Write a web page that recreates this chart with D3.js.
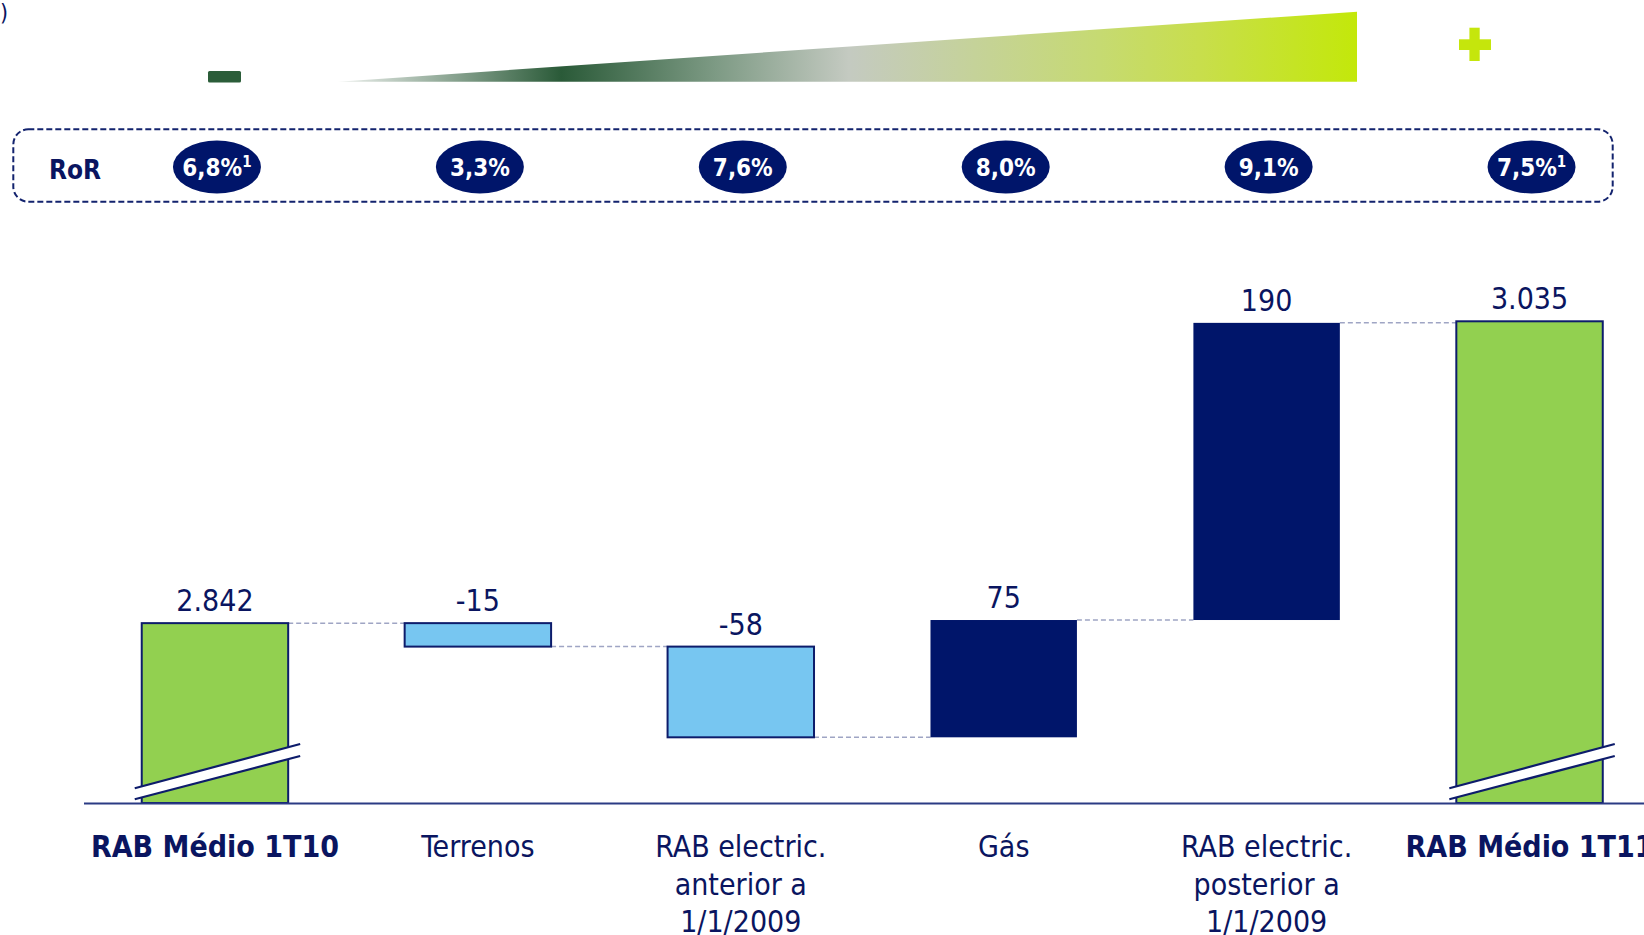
<!DOCTYPE html>
<html>
<head>
<meta charset="utf-8">
<script src="https://cdn.jsdelivr.net/npm/d3@7"></script>
<style>
  html, body { margin: 0; padding: 0; background: #ffffff; }
  svg { display: block; }
  text { font-family: "DejaVu Sans Condensed", "DejaVu Sans", sans-serif; font-stretch: condensed; }
</style>
</head>
<body>
<svg id="chart" width="1644" height="935"></svg>
<script>
// ---- Data ----
const categories = ["RAB Médio 1T10", "Terrenos", "RAB electric. anterior a 1/1/2009", "Gás", "RAB electric. posterior a 1/1/2009", "RAB Médio 1T11"];
const categoryLines = [["RAB Médio 1T10"], ["Terrenos"], ["RAB electric.", "anterior a", "1/1/2009"], ["Gás"], ["RAB electric.", "posterior a", "1/1/2009"], ["RAB Médio 1T11"]];
const stepKinds = ["total", "delta", "delta", "delta", "delta", "total"];
const values = [2842, -15, -58, 75, 190, 3035];
const rorRates = ["6,8%", "3,3%", "7,6%", "8,0%", "9,1%", "7,5%"];
const rorNotes = ["1", "", "", "", "", "1"];
const axisFloor = 2727;   // value at the (broken) base line

// ---- Palette ----
const NAVY = "#00156a";
const TEXT = "#0a1560";
const GREEN = "#92d050";
const LIGHTBLUE = "#77c6f1";

const svg = d3.select("#chart");
const W = 1644, H = 935;
svg.append("rect").attr("width", W).attr("height", H).attr("fill", "#fff");

// ---- Scales ----
const x = d3.scaleBand().domain(categories).range([83.5, 1661]).paddingInner(0.443).paddingOuter(0.2215);
const y = d3.scaleLinear().domain([axisFloor, 3035]).range([803, 321.3]);

// number format: "." thousands, plain hyphen minus
const fmt = d3.formatLocale({ decimal: ",", thousands: ".", grouping: [3], currency: ["", ""], minus: "-" }).format(",");

// waterfall segments
let running = 0;
const bars = categories.map((c, i) => {
  let lo, hi, end;
  if (stepKinds[i] === "total") {
    lo = axisFloor; hi = values[i]; end = values[i];
  } else {
    const start = running; end = running + values[i];
    lo = Math.min(start, end); hi = Math.max(start, end);
  }
  running = end;
  const fill = stepKinds[i] === "total" ? GREEN : (values[i] < 0 ? LIGHTBLUE : NAVY);
  return { c, i, lo, hi, end, fill, v: values[i], kind: stepKinds[i] };
});

// ---- Top legend: "-" ... gradient wedge ... "+" ----
svg.append("text").attr("x", 0).attr("y", 21).attr("font-size", 23).attr("fill", TEXT).text(")");

const defs = svg.append("defs");
const grad = defs.append("linearGradient").attr("id", "wedge")
  .attr("gradientUnits", "userSpaceOnUse").attr("x1", 338).attr("x2", 1357).attr("y1", 0).attr("y2", 0);
[[0, "#eef1ee"], [0.219, "#2a5a38"], [0.37, "#7d9a84"], [0.501, "#c4cac1"], [0.747, "#c6da72"], [0.846, "#c8de4c"], [1, "#c3e80a"]]
  .forEach(([o, col]) => grad.append("stop").attr("offset", o).attr("stop-color", col));
svg.append("polygon").attr("points", "338,81.7 1357,11.7 1357,81.7").attr("fill", "url(#wedge)");

svg.append("rect").attr("x", 208).attr("y", 71).attr("width", 33).attr("height", 11.5).attr("rx", 1.5).attr("fill", "#2b5d39");
const plus = svg.append("g").attr("fill", "#c5e60c");
plus.append("rect").attr("x", 1459).attr("y", 39.3).attr("width", 32).attr("height", 10.7);
plus.append("rect").attr("x", 1469.4).attr("y", 27.7).attr("width", 10.3).attr("height", 33.3);

// ---- RoR strip ----
svg.append("rect").attr("x", 13.3).attr("y", 129.3).attr("width", 1599.4).attr("height", 72.4)
  .attr("rx", 15).attr("fill", "none").attr("stroke", "#13236e").attr("stroke-width", 2)
  .attr("stroke-dasharray", "6,3");
svg.append("text").attr("x", 49).attr("y", 179).attr("font-size", 26).attr("font-weight", "bold")
  .attr("fill", TEXT).text("RoR");

const ror = svg.append("g").selectAll("g").data(categories).join("g")
  .attr("transform", c => `translate(${x(c) + x.bandwidth() / 2 + 2},167)`);
ror.append("ellipse").attr("rx", 44).attr("ry", 26.5).attr("fill", NAVY);
const rorText = ror.append("text").attr("text-anchor", "middle").attr("y", 9)
  .attr("font-size", 24).attr("font-weight", "bold").attr("fill", "#fff");
rorText.append("tspan").text((c, i) => rorRates[i]);
rorText.append("tspan").attr("font-size", 15).attr("dy", -9).text((c, i) => rorNotes[i]);

// ---- Connectors ----
const conn = svg.append("g").attr("stroke", "#9fa5c4").attr("stroke-width", 1.5).attr("stroke-dasharray", "5,3");
for (let i = 0; i < bars.length - 1; i++) {
  const yy = y(bars[i].end);
  conn.append("line").attr("x1", x(bars[i].c) + x.bandwidth()).attr("x2", x(bars[i + 1].c))
    .attr("y1", yy).attr("y2", yy);
}

// ---- Bars ----
svg.append("g").selectAll("rect").data(bars).join("rect")
  .attr("x", d => x(d.c))
  .attr("y", d => y(d.hi))
  .attr("width", x.bandwidth())
  .attr("height", d => y(d.lo) - y(d.hi))
  .attr("fill", d => d.fill)
  .attr("stroke", d => d.fill === NAVY ? "none" : "#0d1c6b")
  .attr("stroke-width", 2);

// ---- Axis break marks on the total bars ----
const breaks = svg.append("g");
bars.filter(d => d.kind === "total").forEach(d => {
  const x0 = x(d.c) - 7, x1 = x(d.c) + x.bandwidth() + 12;
  const b = y(axisFloor);
  breaks.append("polygon")
    .attr("points", `${x0},${b - 14.7} ${x1},${b - 59} ${x1},${b - 47} ${x0},${b - 3.7}`)
    .attr("fill", "#fff");
  breaks.append("line").attr("x1", x0).attr("y1", b - 14.7).attr("x2", x1).attr("y2", b - 59)
    .attr("stroke", "#0d1c6b").attr("stroke-width", 2.2);
  breaks.append("line").attr("x1", x0).attr("y1", b - 3.7).attr("x2", x1).attr("y2", b - 47)
    .attr("stroke", "#0d1c6b").attr("stroke-width", 2.2);
});

// ---- Base line (axis) ----
const axis = svg.append("g").attr("transform", `translate(0,${y(axisFloor)})`)
  .call(d3.axisBottom(x).tickSize(0).tickSizeOuter(0).tickFormat(""));
axis.select(".domain").attr("stroke", "#2b3b84").attr("stroke-width", 2);

// ---- Value labels ----
svg.append("g").selectAll("text").data(bars).join("text")
  .attr("x", d => x(d.c) + x.bandwidth() / 2)
  .attr("y", d => y(d.hi) - 12)
  .attr("text-anchor", "middle").attr("font-size", 30).attr("fill", TEXT)
  .text(d => fmt(d.v));

// ---- Category labels ----
const cat = svg.append("g").selectAll("text").data(categories).join("text")
  .attr("x", c => x(c) + x.bandwidth() / 2)
  .attr("y", 857)
  .attr("text-anchor", "middle").attr("font-size", 30).attr("fill", TEXT)
  .attr("font-weight", (c, i) => stepKinds[i] === "total" ? "bold" : "normal");
cat.each(function (c, i) {
  const t = d3.select(this);
  categoryLines[i].forEach((line, k) => {
    t.append("tspan").attr("x", x(c) + x.bandwidth() / 2).attr("dy", k === 0 ? 0 : 37.5).text(line);
  });
});
</script>
</body>
</html>
